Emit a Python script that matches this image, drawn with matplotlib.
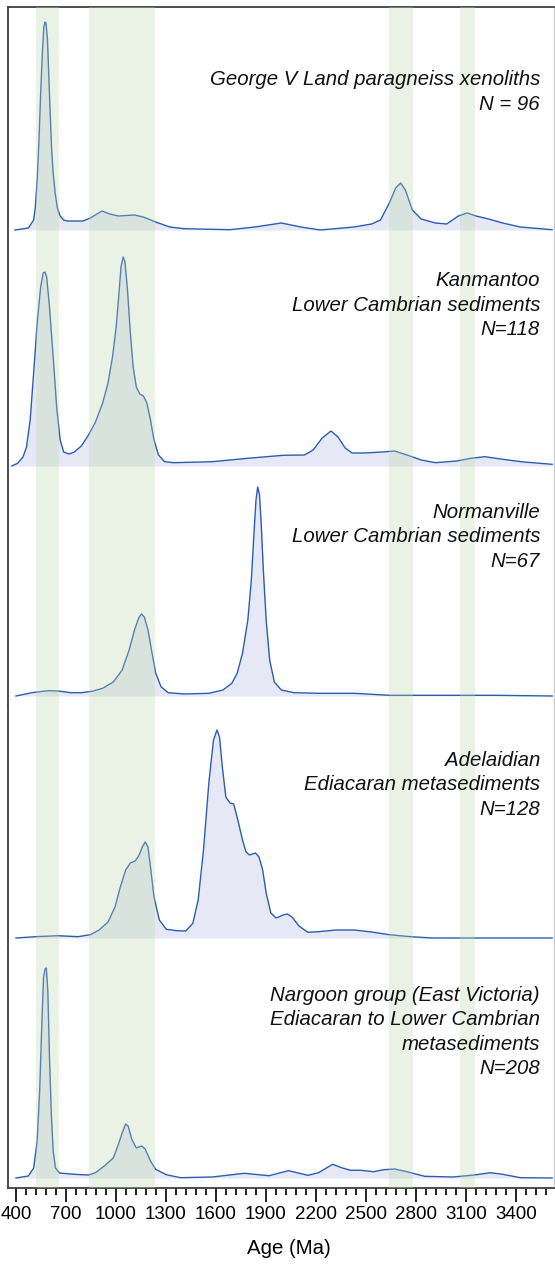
import numpy as np
import matplotlib
matplotlib.use("Agg")
import matplotlib.pyplot as plt

plt.rcParams['font.family'] = ['Liberation Sans', 'DejaVu Sans']

# relative probability curves (age in Ma, relative height)
george_age = [393, 474, 506, 516, 527, 538, 548, 559, 567, 574, 580, 589, 597, 606, 614, 623,
              635, 648, 665, 686, 707, 803, 846, 916, 962, 1015, 1111, 1164, 1238, 1323, 1408,
              1684, 1833, 1992, 2109, 2226, 2428, 2534, 2587, 2640, 2678, 2708, 2736, 2778,
              2831, 2916, 2984, 3054, 3107, 3160, 3235, 3320, 3426, 3617]
george_p = [0, 2, 10, 23, 50, 90, 137, 180, 203, 208, 207, 190, 153, 113, 80, 57,
            37, 22, 14, 10, 9, 9, 12, 19, 16, 14, 15, 13, 8, 3, 1.3,
            0.3, 3, 7, 3, 0, 3, 6, 10, 27, 42, 47, 40, 20,
            11, 7, 6, 14, 17, 14, 11, 7, 3, 0.3]

kanmantoo_age = [374, 410, 442, 463, 485, 506, 527, 548, 563, 574, 584, 601, 623, 644, 665, 686,
                 718, 750, 792, 835, 877, 920, 952, 979, 1001, 1018, 1030, 1043, 1054, 1069,
                 1086, 1103, 1122, 1143, 1164, 1185, 1207, 1228, 1255, 1292, 1345, 1578, 1791,
                 2003, 2130, 2183, 2237, 2290, 2332, 2375, 2417, 2491, 2598, 2672, 2746, 2831,
                 2916, 3044, 3128, 3213, 3320, 3447, 3617]
kanmantoo_p = [0, 2.7, 9, 19, 46, 93, 143, 179, 193, 194, 189, 159, 109, 59, 26, 14,
               12, 14, 20, 31, 44, 63, 83, 109, 139, 173, 199, 209, 204, 176,
               133, 99, 79, 72, 70, 63, 46, 26, 11, 4.3, 3.3, 4.3, 7.7,
               10.7, 11, 16, 28, 35, 29, 18, 13, 13, 14, 15, 11, 6,
               3.3, 5, 7.7, 9.3, 6.7, 4, 1.7]

normanville_age = [400, 495, 591, 654, 729, 792, 856, 920, 984, 1037, 1079, 1111, 1136, 1153,
                   1170, 1192, 1213, 1238, 1270, 1313, 1408, 1557, 1642, 1695, 1727, 1759, 1791,
                   1812, 1829, 1840, 1850, 1861, 1871, 1884, 1901, 1922, 1950, 1992, 2067, 2215,
                   2428, 2640, 3065, 3277, 3617]
normanville_p = [0, 3.3, 5.3, 5, 3.3, 3.3, 4.7, 7.7, 14, 26, 46, 66, 78, 82,
                 79, 66, 46, 23, 9.3, 3.3, 2, 2.7, 6, 12.7, 22.7, 42.7, 76,
                 116, 166, 196, 209, 201, 173, 126, 76, 36, 14, 6, 3.3, 2.7,
                 2.7, 0.7, 0.7, 0.7, 0]

adelaidian_age = [400, 516, 654, 771, 846, 899, 952, 994, 1026, 1058, 1086, 1115, 1136, 1158,
                  1175, 1192, 1207, 1228, 1260, 1302, 1366, 1419, 1461, 1493, 1525, 1557, 1585,
                  1606, 1621, 1638, 1659, 1684, 1706, 1731, 1759, 1780, 1801, 1837, 1858, 1880,
                  1901, 1929, 1961, 2003, 2028, 2056, 2098, 2151, 2215, 2321, 2428, 2534, 2640,
                  2768, 2895, 3617]
adelaidian_p = [0, 1.3, 2.3, 1.3, 3.3, 8, 16, 31, 51, 68, 75, 77, 82, 91,
                96, 91, 71, 41, 18, 8.7, 7.3, 7, 14.7, 38, 88, 155, 198,
                208, 201, 171, 141, 135, 134, 118, 98, 86, 83, 85, 81, 68,
                45, 25, 20, 23, 24, 21, 12, 5.7, 6.3, 8, 8, 6, 3.3,
                1.3, 0, 0]

nargoon_age = [400, 474, 506, 527, 542, 555, 565, 574, 582, 591, 601, 612, 623, 637, 661, 750,
               835, 877, 930, 984, 1015, 1037, 1058, 1073, 1094, 1122, 1153, 1175, 1207, 1238,
               1302, 1387, 1578, 1769, 1918, 2035, 2152, 2215, 2300, 2353, 2406, 2470, 2544,
               2608, 2672, 2746, 2852, 3022, 3150, 3245, 3320, 3426, 3617]
nargoon_p = [0, 2, 10, 37, 87, 154, 200, 209, 210, 187, 120, 64, 27, 10, 5, 3.7,
             3, 5.3, 12, 20, 34, 45, 54, 52, 39, 30, 32, 29, 17, 8.7,
             3.3, 0.3, 1, 4.7, 2.3, 7.3, 2.7, 5.3, 13.7, 10.3, 7.7, 7.7, 6.3,
             8.3, 9, 6.3, 1.7, 1, 3, 5.3, 3.7, 0.3, 0]

labels = [
    "George V Land paragneiss xenoliths\nN = 96",
    "Kanmantoo\nLower Cambrian sediments\nN=118",
    "Normanville\nLower Cambrian sediments\nN=67",
    "Adelaidian\nEdiacaran metasediments\nN=128",
    "Nargoon group (East Victoria)\nEdiacaran to Lower Cambrian\nmetasediments\nN=208",
]
ages = [george_age, kanmantoo_age, normanville_age, adelaidian_age, nargoon_age]
probs = [george_p, kanmantoo_p, normanville_p, adelaidian_p, nargoon_p]

# highlighted age windows (Ma)
band_start = [521, 839, 2640, 3065]
band_end = [657, 1232, 2780, 3152]

# panel layout: heights, and label centre heights (figure pixels)
panel_h = [233, 236, 230, 242, 240]
label_y = [92, 305, 537, 785, 1032]

W, H = 555, 1268
fig = plt.figure(figsize=(W / 100, H / 100), dpi=100)
gs = fig.add_gridspec(5, 1, height_ratios=panel_h, hspace=0,
                      left=8 / W, right=554 / W, top=1 - 7 / H, bottom=1 - 1188 / H)

line_col = '#2a5db0'
for i in range(5):
    ax = fig.add_subplot(gs[i])
    x = np.array(ages[i])
    y = np.array(probs[i])
    ax.fill_between(x, 0, y, color='#e6e9f5', lw=0, zorder=1)
    ax.plot(x, y, color=line_col, lw=1.0, zorder=2)
    for s, e in zip(band_start, band_end):
        ax.axvspan(s, e, color='#bcd7ac', alpha=0.3, lw=0, zorder=3)
    ax.set_xlim(352, 3628)
    ax.set_ylim(-10, panel_h[i] - 10)
    ax.set_yticks([])
    for side in ['left', 'top', 'bottom']:
        ax.spines[side].set_color('#404040')
        ax.spines[side].set_linewidth(1.3)
    ax.spines['right'].set_color('#cccccc')
    ax.spines['right'].set_linewidth(1.0)
    ax.spines['top'].set_visible(i == 0)
    ax.spines['bottom'].set_visible(i == 4)
    if i < 4:
        ax.set_xticks([])
    else:
        ax.set_xticks(np.arange(400, 3401, 300))
        ax.set_xticks(np.arange(400, 3601, 60), minor=True)
        ax.tick_params(axis='x', which='major', length=10, width=1.4, color='#202020',
                       labelsize=13.5, pad=3)
        ax.tick_params(axis='x', which='minor', length=5, width=1.4, color='#202020')
    fig.text(540 / W, 1 - label_y[i] / H, labels[i], ha='right', va='center',
             ma='right', style='italic', fontsize=14.7, linespacing=1.34, color='#111111')

fig.text(289 / W, 1 - 1248 / H, "Age (Ma)", ha='center', va='center', fontsize=14.7)

fig.savefig('out.png', dpi=100)
